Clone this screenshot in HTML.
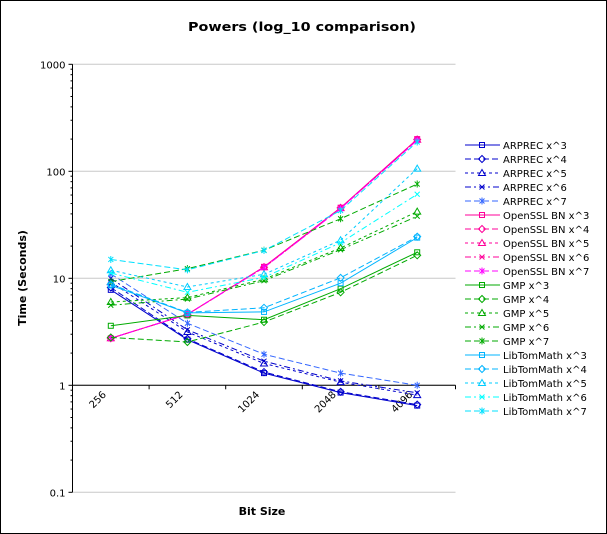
<!DOCTYPE html>
<html><head><meta charset="utf-8"><style>
html,body{margin:0;padding:0;background:#fff}
svg{display:block;font-family:"DejaVu Sans","Liberation Sans",sans-serif}
</style></head><body>
<svg id="chart" width="607" height="534" viewBox="0 0 607 534">
<rect x="0.5" y="0.5" width="606" height="533" fill="#fff" stroke="#000"/>
<text x="302" y="31" text-anchor="middle" font-weight="bold" font-size="12" textLength="228" lengthAdjust="spacingAndGlyphs">Powers (log_10 comparison)</text>
<text transform="translate(26,278) rotate(-90)" text-anchor="middle" font-weight="bold" font-size="11">Time (Seconds)</text>
<text x="262" y="515" text-anchor="middle" font-weight="bold" font-size="11">Bit Size</text>
<g id="grid"></g><g id="axes"></g><g id="series"></g><g id="legend"></g>
</svg>
<script>
const categories = ["256","512","1024","2048","4096"];
const yTicks = [0.1, 1, 10, 100, 1000];
const yTickLabels = ["0.1","1","10","100","1000"];
const seriesNames = ["ARPREC x^3","ARPREC x^4","ARPREC x^5","ARPREC x^6","ARPREC x^7",
"OpenSSL BN x^3","OpenSSL BN x^4","OpenSSL BN x^5","OpenSSL BN x^6","OpenSSL BN x^7",
"GMP x^3","GMP x^4","GMP x^5","GMP x^6","GMP x^7",
"LibTomMath x^3","LibTomMath x^4","LibTomMath x^5","LibTomMath x^6","LibTomMath x^7"];
const arprec3 = [7.8, 2.67, 1.30, 0.855, 0.646];
const arprec4 = [8.2, 2.72, 1.33, 0.87, 0.66];
const arprec5 = [9.2, 3.15, 1.6, 1.07, 0.81];
const arprec6 = [10.0, 3.3, 1.68, 1.1, 0.85];
const arprec7 = [11.0, 3.8, 1.95, 1.3, 1.0];
const ossl3 = [2.75, 4.6, 12.8, 45.7, 200];
const ossl4 = [2.75, 4.6, 12.7, 45.5, 198];
const ossl5 = [2.75, 4.6, 12.7, 45.3, 197];
const ossl6 = [2.75, 4.6, 12.6, 45.0, 196];
const ossl7 = [2.75, 4.6, 12.6, 44.8, 195];
const gmp3 = [3.6, 4.5, 4.1, 8.0, 17.5];
const gmp4 = [2.8, 2.54, 3.9, 7.4, 16.4];
const gmp5 = [6.0, 6.6, 9.8, 19.2, 42];
const gmp6 = [5.6, 6.4, 9.5, 18.5, 38];
const gmp7 = [9.3, 12.3, 18.3, 36, 76];
const ltm3 = [8.6, 4.75, 4.85, 9.0, 24];
const ltm4 = [8.8, 4.8, 5.3, 10.1, 24.5];
const ltm5 = [11.9, 8.3, 10.9, 22.7, 106];
const ltm6 = [11.2, 7.4, 10.2, 21.5, 61];
const ltm7 = [15.0, 12.0, 18.2, 43, 188];
const allSeries = [arprec3,arprec4,arprec5,arprec6,arprec7,ossl3,ossl4,ossl5,ossl6,ossl7,gmp3,gmp4,gmp5,gmp6,gmp7,ltm3,ltm4,ltm5,ltm6,ltm7];

const NS="http://www.w3.org/2000/svg";
const PL=72.5, PR=455.5, PT=64.3, PB=492.3;
const step=(PR-PL)/categories.length;
function xPos(i){return PL+step*(i+0.5);}
function yPos(v){const lo=Math.log10(0.1), hi=Math.log10(1000);return PB-(Math.log10(v)-lo)/(hi-lo)*(PB-PT);}
function mk(tag,attrs,parent){const e=document.createElementNS(NS,tag);for(const k in attrs)e.setAttribute(k,attrs[k]);parent.appendChild(e);return e;}
const colors=["#0000cc","#0000cc","#0000cc","#0000cc","#3366ff","#ff0099","#ff0099","#ff0099","#ff0099","#ff00ff","#00aa00","#00aa00","#00aa00","#00aa00","#00aa00","#00b4ff","#00b4ff","#00ccff","#00ffff","#00e0ff"];
const dashes=["","6,3","3,3","6,3,2,3","6,3"];
const markers=["square","diamond","triangle","x","star"];
function marker(type,x,y,c,g){
  const s=2.5;
  if(type==="square") return mk("rect",{x:x-s,y:y-s,width:2*s,height:2*s,fill:"none",stroke:c},g);
  if(type==="diamond") return mk("path",{d:`M${x},${y-s-1}L${x+s+1},${y}L${x},${y+s+1}L${x-s-1},${y}Z`,fill:"none",stroke:c},g);
  if(type==="triangle") return mk("path",{d:`M${x},${y-s-1}L${x+s+1},${y+s}L${x-s-1},${y+s}Z`,fill:"none",stroke:c},g);
  if(type==="x") return mk("path",{d:`M${x-s},${y-s}L${x+s},${y+s}M${x-s},${y+s}L${x+s},${y-s}`,fill:"none",stroke:c},g);
  return mk("path",{d:`M${x-s},${y-s}L${x+s},${y+s}M${x-s},${y+s}L${x+s},${y-s}M${x},${y-s-1}L${x},${y+s+1}`,fill:"none",stroke:c},g);
}
const grid=document.getElementById("grid"), axes=document.getElementById("axes"), sg=document.getElementById("series"), lg=document.getElementById("legend");
yTicks.forEach((v,i)=>{
  const y=yPos(v);
  const gl=mk("line",{x1:PL,x2:PR,y1:y,y2:y,stroke:"#c8c8c8"},grid);
  
  
  mk("line",{x1:PL-4,x2:PL,y1:y,y2:y,stroke:"#000"},axes);
  const t=mk("text",{x:PL-7,y:y+4,"text-anchor":"end","font-size":"10"},axes);
  t.textContent=yTickLabels[i];
  
  
  if(i<yTicks.length-1){for(let m=2;m<=9;m++){const ym=yPos(v*m);mk("line",{x1:PL-2,x2:PL,y1:ym,y2:ym,stroke:"#000"},axes);}}
});
const ya=mk("line",{x1:PL,x2:PL,y1:PT,y2:PB,stroke:"#000"},axes);


const xa=mk("line",{x1:PL,x2:PR,y1:yPos(1),y2:yPos(1),stroke:"#000"},axes);


for(let i=1;i<=categories.length;i++){const x=PL+step*i;mk("line",{x1:x,x2:x,y1:yPos(1),y2:yPos(1)+4,stroke:"#000"},axes);}
categories.forEach((c,i)=>{
  const x=xPos(i)-4, y=yPos(1)+10;
  const t=mk("text",{x:x,y:y,"text-anchor":"end","font-size":"10",transform:`rotate(-45 ${x} ${y})`},axes);
  t.textContent=c;
  
  
});
allSeries.forEach((vals,si)=>{
  const c=colors[si], d=dashes[si%5];
  const g=mk("g",{},sg);
  
  
  const pts=vals.map((v,i)=>xPos(i)+","+yPos(v)).join(" ");
  const attrs={points:pts,fill:"none",stroke:c,"stroke-width":"1"};
  if(d)attrs["stroke-dasharray"]=d;
  mk("polyline",attrs,g);
  vals.forEach((v,i)=>marker(markers[si%5],xPos(i),yPos(v),c,g));
  const ly=145+si*14;
  const le=mk("g",{},lg);
  
  
  const la={x1:465,x2:500,y1:ly,y2:ly,stroke:c};
  if(d)la["stroke-dasharray"]=d;
  mk("line",la,le);
  marker(markers[si%5],482,ly,c,le);
  const t=mk("text",{x:503,y:ly+4,"font-size":"10"},le);
  t.textContent=seriesNames[si];
});
</script>
</body></html>
